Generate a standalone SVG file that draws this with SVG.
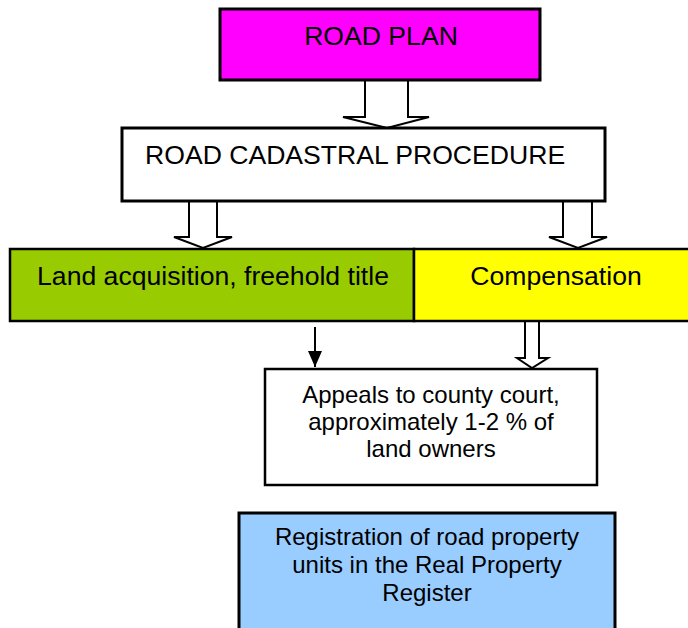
<svg xmlns="http://www.w3.org/2000/svg" width="688" height="628" viewBox="0 0 688 628">
  <style>
    .box { stroke: #000; stroke-width: 3; }
    .thin { stroke: #000; stroke-width: 2.5; }
    .lbl { font-family: "Liberation Sans", Arial, sans-serif; fill: #000; }
    .big { font-size: 26.6px; }
    .small { font-size: 24px; text-anchor: middle; }
    .hollow { fill: #fff; stroke: #000; stroke-width: 2; stroke-linejoin: miter; }
  </style>
  <defs>
    <marker id="head" viewBox="0 0 16 14" refX="16" refY="7" markerWidth="16" markerHeight="14" markerUnits="userSpaceOnUse" orient="auto">
      <path d="M0,0 L16,7 L0,14 Z" fill="#000"/>
    </marker>
  </defs>

  <rect width="688" height="628" fill="#fff"/>

  <!-- connectors -->
  <g id="connectors">
    <path class="hollow" d="M365,80 L365,117 L343,117 L387,128 L429,117 L408,117 L408,80"/>
    <path class="hollow" d="M189,201 L189,237 L174,237 L203,248 L232,237 L217,237 L217,201"/>
    <path class="hollow" d="M563,201 L563,237 L549,237 L578,248 L607,237 L592,237 L592,201"/>
    <line x1="315" y1="327" x2="315" y2="367" stroke="#000" stroke-width="2" marker-end="url(#head)"/>
    <path class="hollow" d="M525,320 L525,358 L517,358 L532,368 L548,358 L539,358 L539,320"/>
  </g>

  <g id="road-plan">
    <rect class="box" x="220" y="9" width="320" height="71" fill="#ff00ff"/>
    <text class="lbl big" x="381" y="45" text-anchor="middle">ROAD PLAN</text>
  </g>

  <g id="cadastral-procedure">
    <rect class="box" x="122" y="128" width="483" height="73" fill="#fff"/>
    <text class="lbl big" x="145" y="164">ROAD CADASTRAL PROCEDURE</text>
  </g>

  <g id="land-acquisition">
    <rect class="thin" x="10" y="249" width="404" height="72" fill="#99cc00"/>
    <text class="lbl big" x="213" y="285" text-anchor="middle">Land acquisition, freehold title</text>
  </g>

  <g id="compensation">
    <rect class="thin" x="414" y="249" width="284" height="72" fill="#ffff00"/>
    <text class="lbl big" x="556" y="285" text-anchor="middle">Compensation</text>
  </g>

  <g id="appeals">
    <rect class="thin" x="265" y="369" width="332" height="116" fill="#fff"/>
    <text class="lbl small" x="431" y="403">Appeals to county court,</text>
    <text class="lbl small" x="431" y="430">approximately 1-2 % of</text>
    <text class="lbl small" x="431" y="457">land owners</text>
  </g>

  <g id="registration">
    <rect class="box" x="239" y="513" width="376" height="130" fill="#99ccff"/>
    <text class="lbl small" x="427" y="545">Registration of road property</text>
    <text class="lbl small" x="427" y="573">units in the Real Property</text>
    <text class="lbl small" x="427" y="601">Register</text>
  </g>
</svg>
